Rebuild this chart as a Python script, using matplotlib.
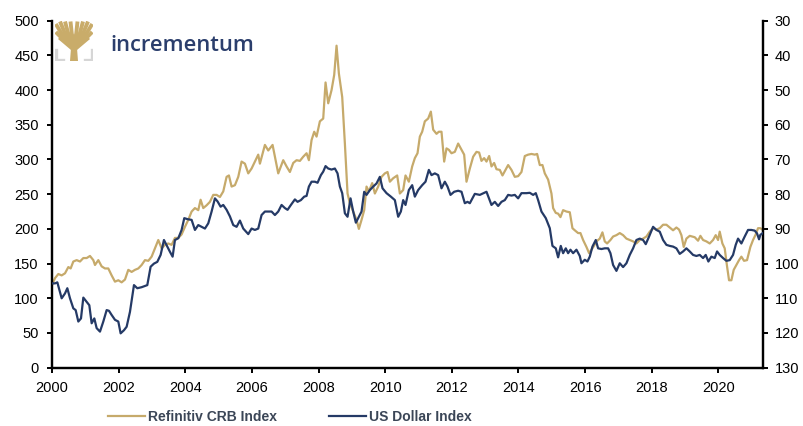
import matplotlib
matplotlib.use("Agg")
import matplotlib.pyplot as plt
from matplotlib.lines import Line2D
from matplotlib.patches import Polygon
from matplotlib import font_manager

# ---------------- data ----------------
crb_years = [2000.00, 2000.09, 2000.19, 2000.29, 2000.39, 2000.49, 2000.56, 2000.64, 2000.74, 2000.84,
             2000.94, 2001.04, 2001.14, 2001.24, 2001.29, 2001.39, 2001.49, 2001.59, 2001.69, 2001.79,
             2001.89, 2001.99, 2002.09, 2002.19, 2002.29, 2002.39, 2002.49, 2002.59, 2002.69, 2002.79,
             2002.89, 2002.99, 2003.09, 2003.19, 2003.29, 2003.39, 2003.49, 2003.59, 2003.69, 2003.79,
             2003.89, 2003.99, 2004.09, 2004.19, 2004.29, 2004.39, 2004.46, 2004.54, 2004.64, 2004.74,
             2004.84, 2004.94, 2005.04, 2005.14, 2005.24, 2005.31, 2005.39, 2005.49, 2005.59, 2005.69,
             2005.79, 2005.89, 2005.99, 2006.09, 2006.19, 2006.24, 2006.39, 2006.49, 2006.62, 2006.79,
             2006.94, 2007.04, 2007.14, 2007.24, 2007.34, 2007.44, 2007.54, 2007.64, 2007.71, 2007.79,
             2007.87, 2007.94, 2008.04, 2008.14, 2008.21, 2008.29, 2008.39, 2008.47, 2008.54, 2008.61,
             2008.71, 2008.79, 2008.87, 2008.94, 2009.04, 2009.14, 2009.21, 2009.29, 2009.37, 2009.44,
             2009.51, 2009.61, 2009.69, 2009.79, 2009.89, 2009.99, 2010.07, 2010.14, 2010.24, 2010.36,
             2010.44, 2010.54, 2010.61, 2010.71, 2010.81, 2010.89, 2010.97, 2011.04, 2011.11, 2011.19,
             2011.29, 2011.37, 2011.44, 2011.54, 2011.61, 2011.69, 2011.77, 2011.84, 2011.91, 2011.99,
             2012.09, 2012.19, 2012.29, 2012.37, 2012.44, 2012.54, 2012.64, 2012.74, 2012.82, 2012.89,
             2012.97, 2013.04, 2013.12, 2013.19, 2013.27, 2013.34, 2013.44, 2013.52, 2013.61, 2013.69,
             2013.79, 2013.89, 2013.99, 2014.09, 2014.19, 2014.29, 2014.39, 2014.49, 2014.56, 2014.64,
             2014.72, 2014.79, 2014.89, 2014.99, 2015.04, 2015.12, 2015.19, 2015.26, 2015.34, 2015.44,
             2015.54, 2015.62, 2015.69, 2015.79, 2015.86, 2015.94, 2016.04, 2016.12, 2016.19, 2016.26,
             2016.34, 2016.44, 2016.52, 2016.59, 2016.66, 2016.76, 2016.84, 2016.94, 2017.04, 2017.14,
             2017.24, 2017.34, 2017.44, 2017.54, 2017.64, 2017.74, 2017.84, 2017.94, 2018.04, 2018.14,
             2018.24, 2018.34, 2018.44, 2018.54, 2018.64, 2018.74, 2018.82, 2018.89, 2018.96, 2019.04,
             2019.14, 2019.22, 2019.29, 2019.39, 2019.46, 2019.54, 2019.64, 2019.74, 2019.84, 2019.92,
             2019.99, 2020.04, 2020.12, 2020.19, 2020.26, 2020.32, 2020.39, 2020.46, 2020.54, 2020.62,
             2020.69, 2020.77, 2020.86, 2020.96, 2021.04, 2021.12, 2021.19, 2021.26, 2021.32]
crb_values = [119, 129, 135, 133, 136, 145, 143, 153, 155, 153,
              158, 158, 161, 155, 148, 155, 146, 143, 143, 133,
              124, 126, 123, 127, 141, 138, 141, 143, 148, 155,
              154, 160, 172, 184, 172, 177, 179, 177, 187, 187,
              192, 203, 213, 225, 230, 227, 242, 230, 234, 239,
              249, 249, 246, 254, 275, 277, 261, 263, 275, 297,
              294, 280, 287, 297, 307, 294, 321, 313, 321, 280,
              299, 290, 282, 295, 299, 298, 304, 309, 299, 328,
              340, 333, 355, 359, 411, 381, 400, 422, 464, 424,
              390, 323, 251, 237, 225, 213, 200, 213, 227, 261,
              254, 266, 251, 261, 275, 280, 282, 268, 273, 277,
              251, 256, 277, 268, 290, 302, 309, 333, 340, 355,
              359, 369, 343, 337, 340, 340, 297, 316, 314, 309,
              311, 323, 314, 307, 268, 287, 304, 311, 310, 298,
              302, 297, 305, 290, 295, 286, 285, 277, 285, 292,
              285, 275, 276, 282, 305, 307, 308, 307, 308, 292,
              292, 280, 271, 251, 230, 223, 222, 217, 227, 225,
              224, 201, 198, 194, 194, 184, 174, 165, 170, 175,
              182, 186, 195, 182, 179, 184, 189, 191, 194, 191,
              186, 184, 182, 179, 184, 186, 189, 196, 201, 199,
              201, 206, 206, 202, 198, 202, 199, 191, 174, 186,
              190, 189, 188, 183, 190, 184, 182, 179, 184, 191,
              184, 196, 179, 172, 146, 126, 126, 141, 148, 155,
              160, 154, 155, 174, 184, 192, 201, 201, 199]

usd_years = [2000.00, 2000.09, 2000.16, 2000.29, 2000.39, 2000.46, 2000.54, 2000.64, 2000.71, 2000.79,
             2000.87, 2000.94, 2001.04, 2001.12, 2001.19, 2001.27, 2001.34, 2001.44, 2001.54, 2001.64,
             2001.71, 2001.79, 2001.89, 2001.99, 2002.06, 2002.16, 2002.24, 2002.34, 2002.46, 2002.56,
             2002.69, 2002.86, 2002.96, 2003.06, 2003.16, 2003.26, 2003.36, 2003.44, 2003.54, 2003.62,
             2003.69, 2003.79, 2003.89, 2003.97, 2004.07, 2004.19, 2004.29, 2004.39, 2004.49, 2004.59,
             2004.69, 2004.79, 2004.89, 2004.97, 2005.06, 2005.14, 2005.24, 2005.34, 2005.44, 2005.54,
             2005.64, 2005.74, 2005.89, 2005.99, 2006.09, 2006.19, 2006.29, 2006.39, 2006.49, 2006.59,
             2006.69, 2006.79, 2006.89, 2006.99, 2007.07, 2007.17, 2007.29, 2007.37, 2007.47, 2007.57,
             2007.64, 2007.71, 2007.79, 2007.89, 2007.97, 2008.07, 2008.14, 2008.21, 2008.29, 2008.39,
             2008.49, 2008.57, 2008.64, 2008.71, 2008.79, 2008.87, 2008.96, 2009.04, 2009.12, 2009.21,
             2009.29, 2009.37, 2009.44, 2009.54, 2009.64, 2009.74, 2009.84, 2009.92, 2010.04, 2010.17,
             2010.29, 2010.39, 2010.47, 2010.54, 2010.61, 2010.71, 2010.81, 2010.89, 2010.99, 2011.11,
             2011.21, 2011.31, 2011.39, 2011.49, 2011.59, 2011.69, 2011.79, 2011.87, 2011.96, 2012.07,
             2012.19, 2012.29, 2012.39, 2012.47, 2012.54, 2012.69, 2012.84, 2013.04, 2013.19, 2013.29,
             2013.39, 2013.49, 2013.59, 2013.69, 2013.79, 2013.89, 2013.99, 2014.09, 2014.24, 2014.34,
             2014.44, 2014.52, 2014.59, 2014.69, 2014.82, 2014.94, 2015.02, 2015.12, 2015.19, 2015.27,
             2015.34, 2015.42, 2015.49, 2015.56, 2015.64, 2015.74, 2015.84, 2015.89, 2015.99, 2016.07,
             2016.14, 2016.22, 2016.32, 2016.39, 2016.49, 2016.59, 2016.69, 2016.76, 2016.84, 2016.94,
             2017.04, 2017.14, 2017.24, 2017.34, 2017.44, 2017.54, 2017.64, 2017.74, 2017.82, 2017.92,
             2018.04, 2018.14, 2018.24, 2018.34, 2018.44, 2018.54, 2018.64, 2018.74, 2018.84, 2018.94,
             2019.04, 2019.14, 2019.24, 2019.34, 2019.44, 2019.54, 2019.62, 2019.70, 2019.79, 2019.89,
             2019.96, 2020.04, 2020.14, 2020.24, 2020.34, 2020.44, 2020.52, 2020.59, 2020.69, 2020.79,
             2020.89, 2020.99, 2021.09, 2021.16, 2021.22, 2021.26, 2021.32]
usd_values = [105.7, 105.7, 105.4, 110.0, 108.6, 107.1, 110.0, 112.9, 113.4, 116.7,
              115.8, 109.8, 111.0, 112.0, 117.2, 115.8, 118.6, 119.6, 116.7, 113.4,
              113.6, 114.8, 116.2, 116.7, 120.1, 119.2, 118.2, 113.9, 106.2, 107.1,
              106.8, 106.2, 100.9, 100.0, 99.5, 97.5, 93.2, 94.7, 96.6, 98.0,
              93.2, 92.7, 90.3, 86.9, 87.2, 87.4, 90.3, 88.9, 89.4, 89.9,
              88.4, 85.0, 81.2, 82.1, 83.6, 83.1, 84.5, 86.4, 88.9, 89.4,
              87.6, 89.9, 91.5, 89.9, 90.3, 89.9, 86.0, 85.0, 85.0, 85.0,
              86.0, 85.0, 83.1, 84.0, 84.5, 83.1, 81.5, 82.2, 81.7, 80.7,
              80.5, 77.8, 76.4, 76.4, 76.7, 74.5, 73.5, 71.9, 72.6, 72.9,
              72.6, 74.0, 77.8, 79.7, 85.5, 86.5, 81.2, 85.0, 88.2, 86.5,
              85.0, 79.3, 80.2, 78.8, 77.8, 76.9, 75.0, 78.3, 79.7, 80.7,
              81.7, 86.5, 85.0, 81.7, 83.1, 78.8, 77.4, 80.7, 78.8, 77.4,
              76.4, 73.0, 74.5, 74.0, 74.5, 78.3, 76.4, 77.8, 80.2, 79.3,
              79.0, 79.3, 82.6, 82.2, 82.6, 79.9, 80.2, 79.3, 83.1, 82.2,
              83.4, 82.2, 81.7, 80.2, 80.4, 80.2, 81.2, 79.7, 79.7, 79.6,
              80.2, 79.7, 81.7, 85.0, 86.9, 89.8, 94.9, 95.6, 98.2, 94.9,
              97.0, 95.6, 97.0, 96.0, 97.0, 96.0, 97.8, 99.9, 98.9, 99.4,
              98.0, 95.1, 93.2, 95.6, 95.8, 95.6, 95.6, 97.0, 100.4, 102.1,
              99.9, 101.0, 99.9, 97.5, 95.6, 93.2, 92.8, 93.2, 94.4, 92.2,
              89.4, 90.3, 90.8, 93.2, 94.6, 94.9, 95.1, 95.6, 97.2, 96.5,
              95.6, 96.5, 97.5, 97.8, 97.5, 98.4, 97.5, 99.4, 98.0, 98.4,
              96.5, 97.5, 98.4, 99.2, 99.0, 97.5, 94.6, 92.8, 94.2, 92.2,
              90.3, 90.3, 90.5, 91.3, 93.0, 91.7, 91.3]

x_ticks = [2000, 2002, 2004, 2006, 2008, 2010, 2012, 2014, 2016, 2018, 2020]
left_ticks = [0, 50, 100, 150, 200, 250, 300, 350, 400, 450, 500]
right_ticks = [30, 40, 50, 60, 70, 80, 90, 100, 110, 120, 130]

crb_label = "Refinitiv CRB Index"
usd_label = "US Dollar Index"

# ---------------- style ----------------
GOLD = "#C6AA6B"
NAVY = "#253A66"
W, H = 804, 426

plt.rcParams['font.family'] = ['Liberation Sans', 'DejaVu Sans']


def first_font(names):
    for n in names:
        try:
            font_manager.findfont(font_manager.FontProperties(family=n, weight='bold'),
                                  fallback_to_default=False)
            return n
        except Exception:
            continue
    return None


narrow = first_font(['Liberation Sans Narrow', 'Arial Narrow', 'DejaVu Sans Condensed'])
if narrow is not None:
    leg_family, leg_size = [narrow, 'Liberation Sans'], 12.0
else:
    leg_family, leg_size = ['Liberation Sans', 'DejaVu Sans'], 10.0

fig = plt.figure(figsize=(W / 100, H / 100), dpi=100)
ax = fig.add_axes([52 / W, 1 - 367.7 / H, (762.7 - 52) / W, (367.7 - 20.7) / H])
ax2 = ax.twinx()

ax.plot(crb_years, crb_values, color=GOLD, lw=1.6, solid_joinstyle='round', zorder=2)
ax2.plot(usd_years, usd_values, color=NAVY, lw=1.6, solid_joinstyle='round', zorder=3)

ax.set_xlim(2000, 2021.33)
ax.set_ylim(0, 500)
ax2.set_ylim(130, 30)

ax.set_xticks(x_ticks)
ax.set_xticklabels([str(t) for t in x_ticks])
ax.set_yticks(left_ticks)
ax2.set_yticks(right_ticks)

for a in (ax, ax2):
    a.spines['top'].set_visible(False)
    for s in ('left', 'right', 'bottom'):
        a.spines[s].set_linewidth(1.6)
        a.spines[s].set_color('black')
    a.tick_params(axis='both', direction='out', length=3.5, width=1.4,
                  labelsize=10.5, colors='black')
ax.tick_params(axis='y', pad=6)
ax.tick_params(axis='x', pad=6)
ax2.tick_params(axis='y', pad=5)

# ---------------- legend (two entries placed like the reference) ----------------
for color, label, x0 in [(GOLD, crb_label, 108), (NAVY, usd_label, 329)]:
    lg = fig.legend([Line2D([], [], color=color, lw=1.6)], [label], loc='center left',
                    bbox_to_anchor=(x0 / W, 1 - 417 / H), frameon=False,
                    borderpad=0, borderaxespad=0, handlelength=37 / (leg_size * 100 / 72),
                    handletextpad=0.25,
                    prop={'family': leg_family, 'weight': 'bold', 'size': leg_size})
    for t in lg.get_texts():
        t.set_color('#3B4657')

# ---------------- logo ----------------
lax = fig.add_axes([55 / W, 1 - 61 / H, 38 / W, 40 / H])
lax.set_xlim(0, 38)
lax.set_ylim(0, 40)
lax.axis('off')
LOGO_GOLD = "#C9AC6A"
lax.add_patch(Polygon([(15, 0), (23, 0), (22, 13), (16, 13)], closed=True,
                      color=LOGO_GOLD, lw=0))
lax.add_patch(Polygon([(16, 11), (22, 11), (35, 22), (31, 26), (7, 26), (3, 22)], closed=True,
                      color=LOGO_GOLD, lw=0))
for (x1, y1) in [(0.8, 37), (5, 39.5), (10, 39.5), (15.5, 39.5), (22.5, 39.5),
                 (28, 39.5), (33, 39.5), (37.2, 37), (0.8, 29), (37.2, 29)]:
    lax.plot([19, (19 + x1) / 2 + (x1 - 19) * 0.15, x1], [16, (16 + y1) / 2, y1],
             color=LOGO_GOLD, lw=2.8, solid_capstyle='butt')
GRAY = "#D6D6D6"
lax.plot([1, 1, 8], [11, 1, 1], color=GRAY, lw=2.4, solid_joinstyle='miter')
lax.plot([37, 37, 30], [11, 1, 1], color=GRAY, lw=2.4, solid_joinstyle='miter')

fig.text(110 / W, 1 - 51 / H, "incrementum", ha='left', va='baseline',
         fontsize=15.8, color="#2B3E6C", weight='semibold',
         family=['Open Sans', 'DejaVu Sans'])

fig.savefig("out.png", dpi=100)
